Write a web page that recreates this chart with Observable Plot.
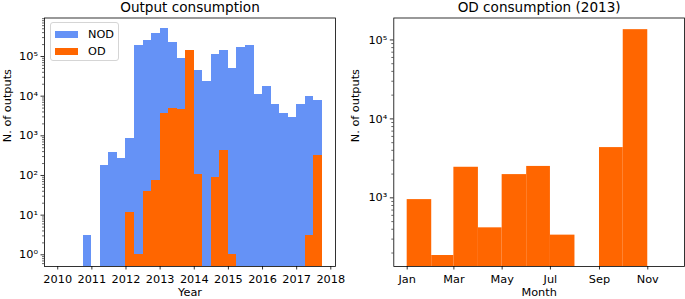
<!DOCTYPE html>
<html><head><meta charset="utf-8">
<script src="https://cdn.jsdelivr.net/npm/d3@7"></script>
<script src="https://cdn.jsdelivr.net/npm/@observablehq/plot@0.6"></script>
<style>
body{margin:0;background:#fff;font-family:"DejaVu Sans",sans-serif;}
#wrap{position:relative;width:685px;height:299px;overflow:hidden;background:#fff;}
#left{position:absolute;left:0;top:0;z-index:2}
#right{position:absolute;left:340px;top:0;z-index:1}
#left svg{overflow:visible}
#legend{position:absolute;z-index:3;left:50px;top:22px;width:67px;height:37px;border:1px solid #d5d5d5;border-radius:3px;background:rgba(255,255,255,0.85);font-size:11.3px;color:#000;}
#legend .row{position:absolute;left:4px;height:14px;display:flex;align-items:center;}
#legend .sw{width:23px;height:7px;margin-right:10px;}
</style></head><body>
<div id="wrap"><div id="left"></div><div id="right"></div>
<div id="legend"></div></div>
<script>
// ---- Data: left panel (quarterly bins) ----
const quarterStarts = [2010.0,2010.25,2010.5,2010.75,2011.0,2011.25,2011.5,2011.75,
  2012.0,2012.25,2012.5,2012.75,2013.0,2013.25,2013.5,2013.75,
  2014.0,2014.25,2014.5,2014.75,2015.0,2015.25,2015.5,2015.75,
  2016.0,2016.25,2016.5,2016.75,2017.0,2017.25,2017.5];
const binWidth = 0.25;
const nodCounts = [0,0,0,3,0,183,377,270,
  880,193000,258000,390000,500000,220000,89000,60000,
  45000,23800,115000,145000,50000,168000,193000,11200,
  17800,6240,3630,2880,6150,9790,7580];
const odCounts = [0,0,0,0,0,0,0,0,
  12,1,40,75,3630,5000,4650,142000,
  107,0,91,430,1,0,0,0,
  0,0,0,0,0,3,316];
const yearTicks = [2010,2011,2012,2013,2014,2015,2016,2017,2018];
const seriesNames = ["NOD","OD"];
const seriesColors = ["#6592F6","#FF6600"];

// ---- Data: right panel (monthly 2013) ----
const monthNames = ["Jan","Feb","Mar","Apr","May","Jun","Jul","Aug","Sep","Oct"];
const odMonthly2013 = [950,186,2440,417,1970,2500,337,0,4330,135000];
const monthTickLabels = ["Jan","Mar","May","Jul","Sep","Nov"];
const allMonths = ["Jan","Feb","Mar","Apr","May","Jun","Jul","Aug","Sep","Oct","Nov","Dec"];

const FONT = "DejaVu Sans";
const FS = 11.3;
const supMap = {"0":"⁰","1":"¹","2":"²","3":"³","4":"⁴","5":"⁵","6":"⁶","7":"⁷","8":"⁸","9":"⁹","-":"⁻"};
const logFmt = d => "10" + String(Math.round(Math.log10(d))).split("").map(c => supMap[c]).join("");
function minorTicks(lo, hi){
  const out = [];
  for (let k = -2; k <= 7; k++) for (let m = 2; m <= 9; m++) { const v = m * 10 ** k; if (v >= lo && v <= hi) out.push(v); }
  return out;
}
function fixTickFonts(svg){
  svg.querySelectorAll('g[aria-label$="tick label"]').forEach(g => {
    g.setAttribute("font-size", FS);
    g.style.fontSize = FS + "px";
    g.querySelectorAll("text").forEach(t => { t.setAttribute("font-size", FS); t.style.fontSize = FS + "px"; t.style.fontFamily = FONT; });
  });
}

// ---- Left panel ----
const leftBins = quarterStarts.map((s, i) => ({x1: s, x2: s + binWidth, nod: nodCounts[i], od: odCounts[i]}));
const leftY = [0.507, 935000];
const left = Plot.plot({
  width: 340, height: 299,
  marginLeft: 44, marginRight: 5, marginTop: 17.5, marginBottom: 33,
  style: {fontFamily: FONT, fontSize: FS + "px", background: "transparent", color: "black", overflow: "visible"},
  x: {domain: [2009.6125, 2018.1375]},
  y: {type: "log", domain: leftY},
  marks: [
    Plot.rect(leftBins.filter(d => d.nod > 0), {x1: "x1", x2: "x2", y1: 1e-3, y2: "nod", fill: seriesColors[0], shapeRendering: "crispEdges", clip: true}),
    Plot.rect(leftBins.filter(d => d.od > 0), {x1: "x1", x2: "x2", y1: 1e-3, y2: "od", fill: seriesColors[1], shapeRendering: "crispEdges", clip: true}),
    Plot.frame({stroke: "black", strokeWidth: 0.8}),
    Plot.axisX(yearTicks, {tickSize: 3.5, tickPadding: 4.5, tickFormat: d => String(d), label: null, fontSize: FS, strokeWidth: 0.8}),
    Plot.axisY([1,10,100,1e3,1e4,1e5], {tickSize: 3.5, tickPadding: 3, tickFormat: logFmt, label: null, fontSize: FS, strokeWidth: 0.8}),
    Plot.axisY(minorTicks(leftY[0], leftY[1]), {tickSize: 2, tickFormat: () => "", label: null, strokeWidth: 0.6}),
    Plot.text(["Output consumption"], {frameAnchor: "top", lineAnchor: "middle", dy: -10, fontSize: 13.6, fill: "black"}),
    Plot.text(["Year"], {frameAnchor: "bottom", lineAnchor: "middle", dy: 26, fontSize: FS, fill: "black"}),
    Plot.text(["N. of outputs"], {frameAnchor: "left", dx: -37, rotate: -90, fontSize: FS, fill: "black"})
  ]
});
fixTickFonts(left);
document.getElementById("left").appendChild(left);

// ---- Right panel ----
const rightBins = monthNames.map((m, i) => ({m, x1: new Date(Date.UTC(2013, i, 1)), x2: new Date(Date.UTC(2013, i + 1, 1)), v: odMonthly2013[i]}));
const rightY = [135, 189700];
const monthTickDates = monthTickLabels.map(n => new Date(Date.UTC(2013, allMonths.indexOf(n), 1)));
const right = Plot.plot({
  width: 345, height: 299,
  marginLeft: 53.3, marginRight: 1, marginTop: 17.5, marginBottom: 33,
  style: {fontFamily: FONT, fontSize: FS + "px", background: "white", color: "black"},
  x: {type: "utc", domain: [new Date(Date.UTC(2012, 11, 15, 2)), new Date(Date.UTC(2013, 11, 17, 10))]},
  y: {type: "log", domain: rightY},
  marks: [
    Plot.rect(rightBins.filter(d => d.v > 0), {x1: "x1", x2: "x2", y1: 1e-3, y2: "v", fill: seriesColors[1], clip: true}),
    Plot.frame({stroke: "black", strokeWidth: 0.8}),
    Plot.axisX(monthTickDates, {tickSize: 3.5, tickPadding: 4.5, tickFormat: d3.utcFormat("%b"), label: null, fontSize: FS, strokeWidth: 0.8}),
    Plot.axisY([1e3,1e4,1e5], {tickSize: 3.5, tickPadding: 3, tickFormat: logFmt, label: null, fontSize: FS, strokeWidth: 0.8}),
    Plot.axisY(minorTicks(rightY[0], rightY[1]), {tickSize: 2, tickFormat: () => "", label: null, strokeWidth: 0.6}),
    Plot.text(["OD consumption (2013)"], {frameAnchor: "top", lineAnchor: "middle", dy: -10, fontSize: 13.6, fill: "black"}),
    Plot.text(["Month"], {frameAnchor: "bottom", lineAnchor: "middle", dy: 26, fontSize: FS, fill: "black"}),
    Plot.text(["N. of outputs"], {frameAnchor: "left", dx: -38, rotate: -90, fontSize: FS, fill: "black"})
  ]
});
fixTickFonts(right);
document.getElementById("right").appendChild(right);

// ---- Legend ----
const lg = document.getElementById("legend");
seriesNames.forEach((n, i) => {
  const row = document.createElement("div");
  row.className = "row";
  row.style.top = (4 + i * 17) + "px";
  row.innerHTML = `<span class="sw" style="background:${seriesColors[i]}"></span><span>${n}</span>`;
  lg.appendChild(row);
});
</script>
</body></html>
